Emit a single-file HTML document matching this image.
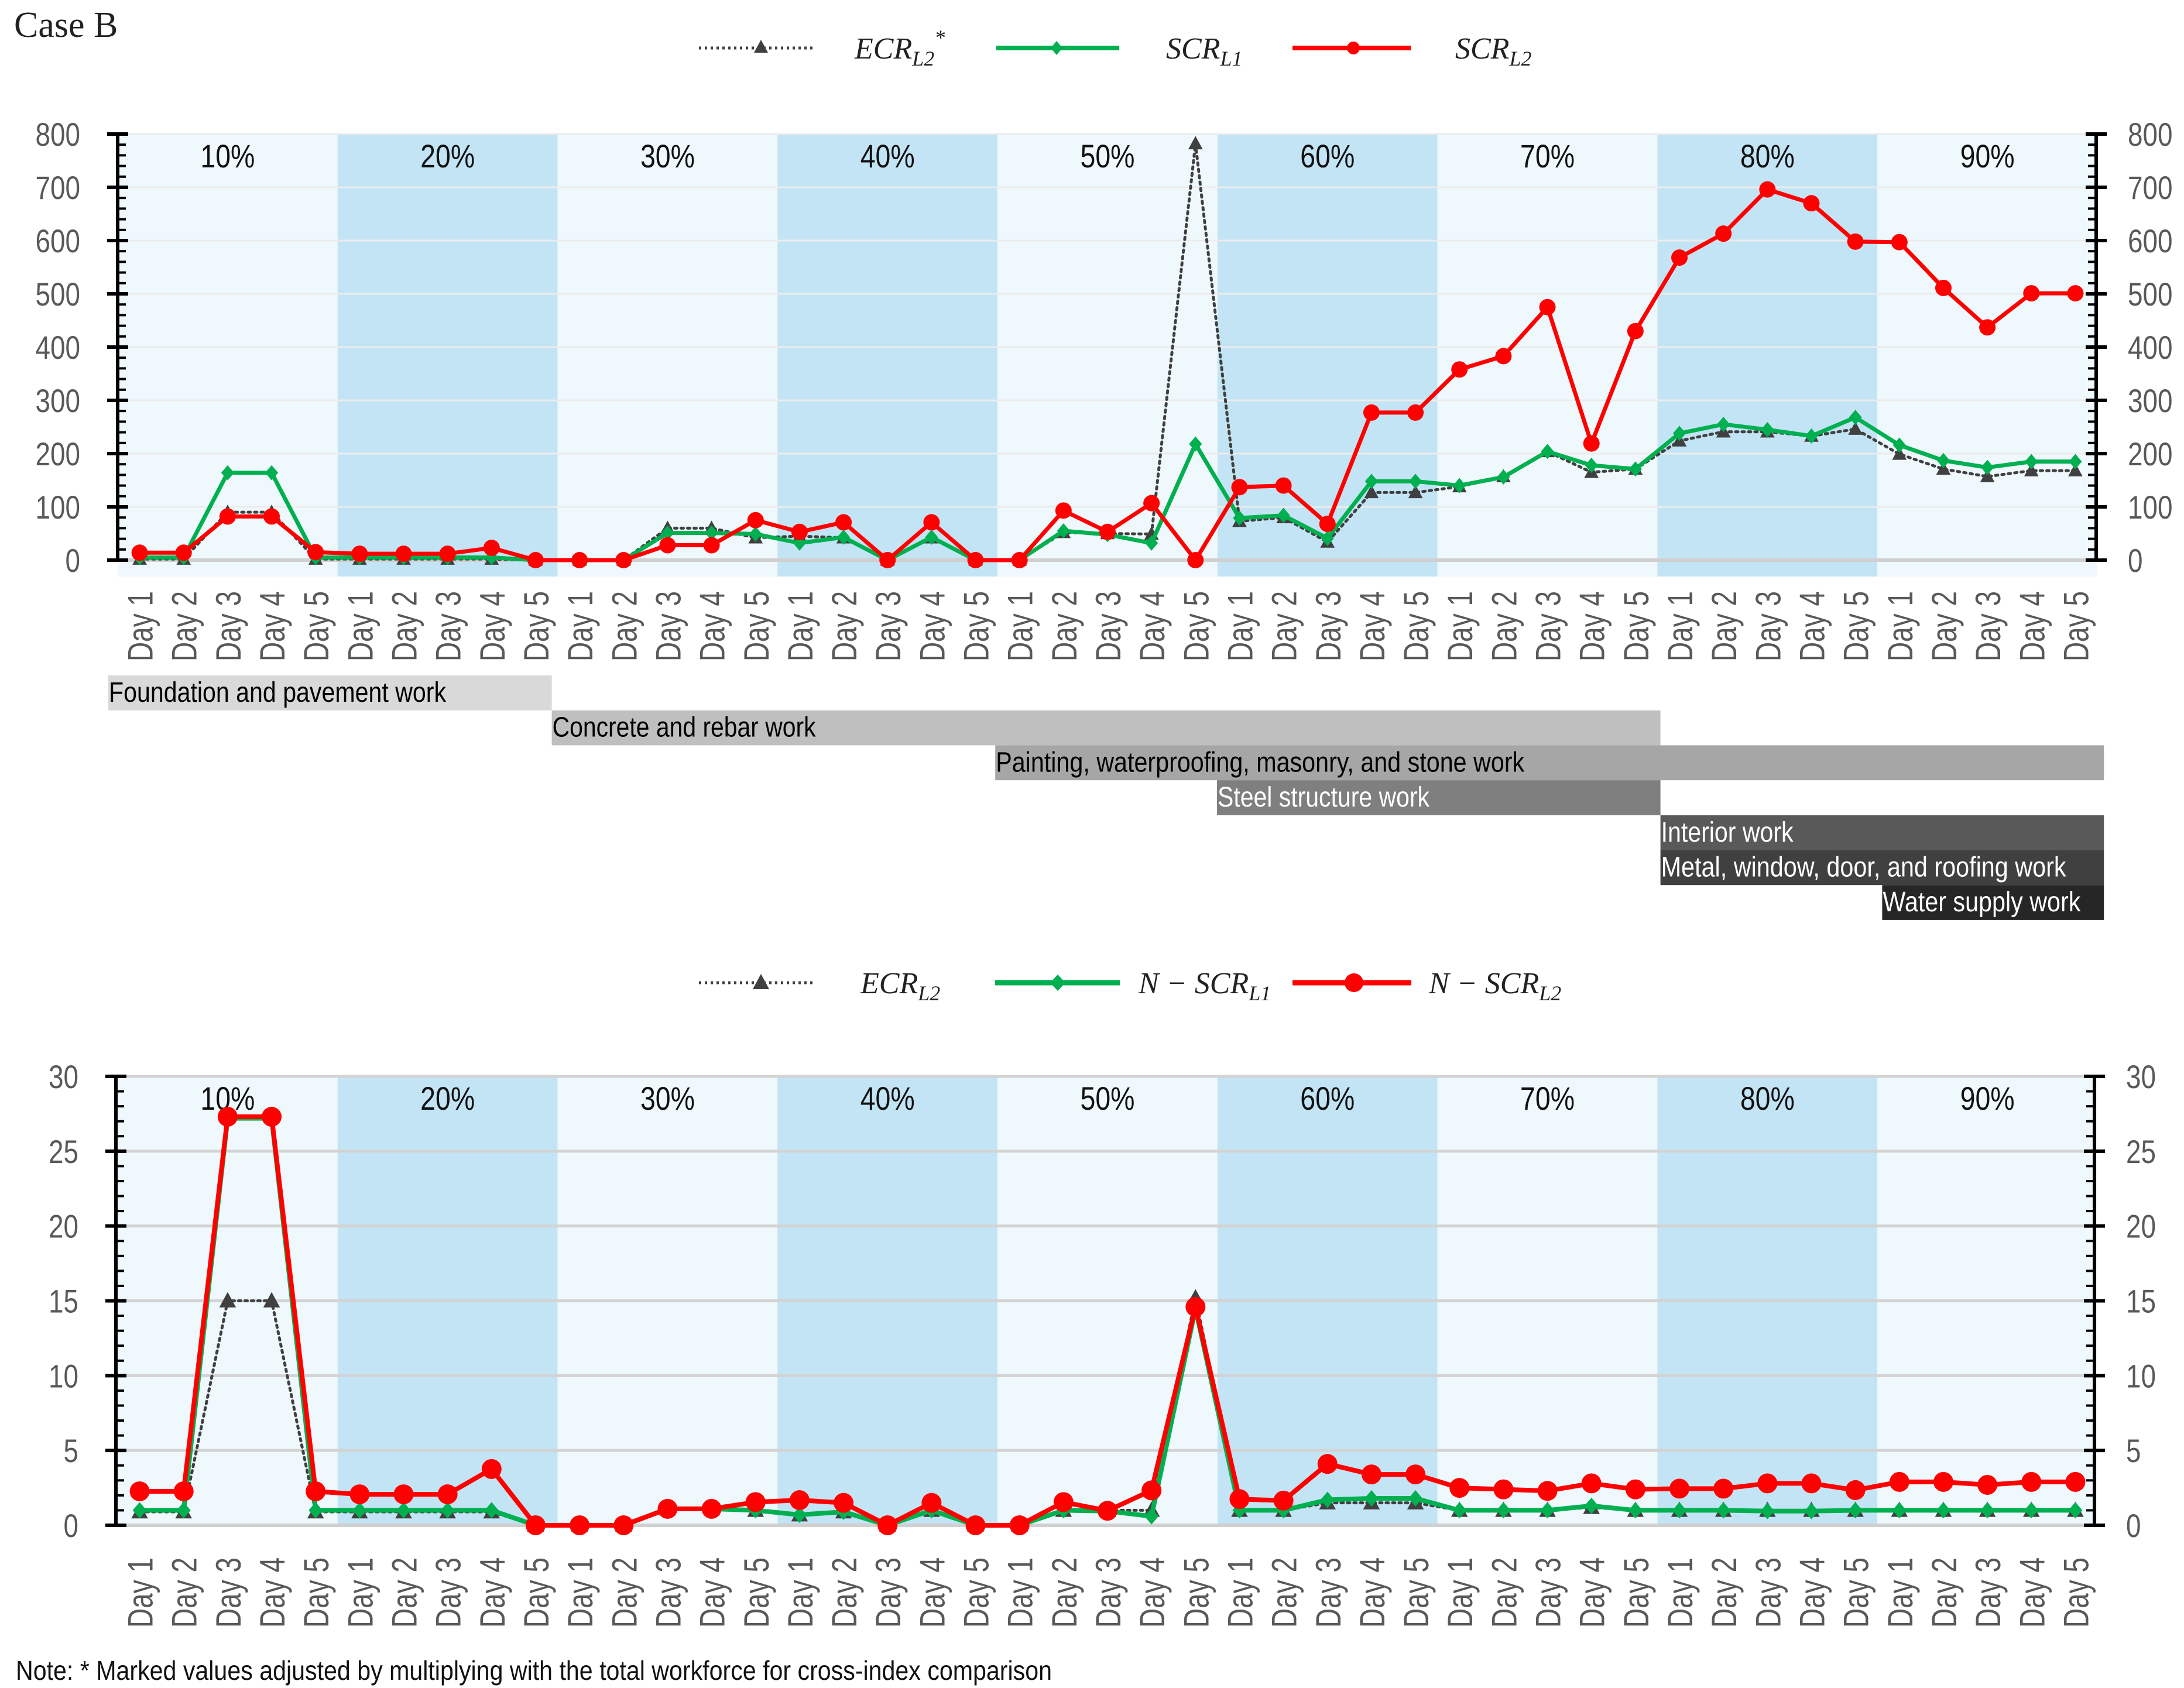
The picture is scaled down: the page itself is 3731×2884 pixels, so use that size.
<!DOCTYPE html>
<html><head><meta charset="utf-8"><style>
html,body{margin:0;padding:0;background:#fff;}
svg{display:block;}
text{font-family:"Liberation Sans",sans-serif;}
.m{font-family:"Liberation Serif",serif;font-style:italic;}
</style></head><body>
<svg id="chart" width="3731" height="2884" viewBox="0 0 3731 2884" xmlns="http://www.w3.org/2000/svg">
<text x="24" y="63" font-family="Liberation Serif" font-size="62" fill="#222" style="font-family:'Liberation Serif',serif">Case B</text>
<g id="g-top"></g>
<g id="g-bot"></g>
<g id="g-gantt"></g>
<g id="g-leg">
 <g>
  <line x1="1194" y1="82" x2="1393" y2="82" stroke="#404040" stroke-width="5" stroke-dasharray="4 6"/>
  <polygon points="1300,68 1288,90 1312,90" fill="#404040"/>
  <text class="m" x="1460" y="100" font-size="52" fill="#222">ECR<tspan font-size="36" dy="12">L2</tspan><tspan font-size="36" dy="-36">*</tspan></text>
 </g>
 <g>
  <line x1="1702" y1="82" x2="1912" y2="82" stroke="#00b050" stroke-width="8"/>
  <polygon points="1805,70 1815,82 1805,94 1795,82" fill="#00b050"/>
  <text class="m" x="1992" y="100" font-size="52" fill="#222">SCR<tspan font-size="36" dy="12">L1</tspan></text>
 </g>
 <g>
  <line x1="2208" y1="82" x2="2410" y2="82" stroke="#ff0000" stroke-width="8"/>
  <circle cx="2312" cy="82" r="11" fill="#ff0000"/>
  <text class="m" x="2486" y="100" font-size="52" fill="#222">SCR<tspan font-size="36" dy="12">L2</tspan></text>
 </g>
 <g>
  <line x1="1194" y1="1679" x2="1393" y2="1679" stroke="#404040" stroke-width="5" stroke-dasharray="4 6"/>
  <polygon points="1300,1664 1286,1690 1314,1690" fill="#404040"/>
  <text class="m" x="1470" y="1697" font-size="52" fill="#222">ECR<tspan font-size="36" dy="12">L2</tspan></text>
 </g>
 <g>
  <line x1="1700" y1="1679" x2="1913" y2="1679" stroke="#00b050" stroke-width="9"/>
  <polygon points="1807,1665 1820,1679 1807,1693 1794,1679" fill="#00b050"/>
  <text class="m" x="1945" y="1697" font-size="52" fill="#222">N − SCR<tspan font-size="36" dy="12">L1</tspan></text>
 </g>
 <g>
  <line x1="2208" y1="1679" x2="2411" y2="1679" stroke="#ff0000" stroke-width="9"/>
  <circle cx="2313" cy="1679" r="16" fill="#ff0000"/>
  <text class="m" x="2441" y="1697" font-size="52" fill="#222">N − SCR<tspan font-size="36" dy="12">L2</tspan></text>
 </g>
</g>
<text x="27" y="2870" font-size="46" fill="#111" textLength="1770" lengthAdjust="spacingAndGlyphs">Note: * Marked values adjusted by multiplying with the total workforce for cross-index comparison</text>
</svg>
<script>
// ---------- data ----------
const groups = ["10%","20%","30%","40%","50%","60%","70%","80%","90%"];
const days = ["Day 1","Day 2","Day 3","Day 4","Day 5"];
const topTicks = [0,100,200,300,400,500,600,700,800];
const botTicks = [0,5,10,15,20,25,30];
const ecrTop = [2,2,90,90,2, 2,2,2,2,0, 0,0,60,60,42, 45,42,0,42,0, 0,52,50,49,782, 73,80,34,127,127, 138,157,204,165,171, 224,241,241,233,246, 199,171,157,168,168];
const scrL1Top = [5,5,164,164,5, 5,5,5,5,0, 0,0,51,51,49, 32,43,0,43,0, 0,55,48,32,218, 79,84,41,148,148, 140,156,204,178,171, 238,255,245,233,268, 216,187,174,185,185];
const scrL2Top = [14,14,82,82,15, 12,12,12,23,0, 0,0,28,28,75, 53,71,0,71,0, 0,93,53,107,0, 137,140,68,277,277, 358,383,475,219,430, 568,613,696,670,598, 597,511,437,501,501];
const ecrBot = [0.9,0.9,15,15,0.9, 0.9,0.9,0.9,0.9,0, 0,0,1.1,1.1,1.0, 0.7,0.9,0,1.0,0, 0,1.0,1.0,1.0,15.2, 1.0,1.0,1.5,1.5,1.5, 1.0,1.0,1.0,1.2,1.0, 1,1,1,1,1, 1,1,1,1,1];
const nScrL1Bot = [1,1,27.2,27.2,1, 1,1,1,1,0, 0,0,1.1,1.1,1.0, 0.7,0.9,0,1.0,0, 0,1.0,0.95,0.6,14.5, 1.0,1.0,1.7,1.8,1.8, 1.0,1.0,1.0,1.3,1.0, 1,1,0.95,0.95,1, 1,1,1,1,1];
const nScrL2Bot = [2.27,2.27,27.3,27.3,2.27, 2.07,2.07,2.07,3.76,0, 0,0,1.1,1.1,1.55, 1.68,1.5,0,1.5,0, 0,1.55,0.97,2.33,14.6, 1.75,1.65,4.1,3.4,3.4, 2.5,2.4,2.3,2.8,2.4, 2.45,2.45,2.8,2.8,2.35, 2.9,2.9,2.7,2.9,2.9];
const tasks = ["Foundation and pavement work","Concrete and rebar work","Painting, waterproofing, masonry, and stone work","Steel structure work","Interior work","Metal, window, door, and roofing work","Water supply work"];
const taskStart = [0,2,4,5,7,7,8];
const taskEnd = [2,7,9,7,9,9,9];

// ---------- helpers ----------
const NS="http://www.w3.org/2000/svg";
function mk(tag, attrs, parent){const e=document.createElementNS(NS,tag);for(const k in attrs)e.setAttribute(k,attrs[k]);parent.appendChild(e);return e;}
const BAND_L=201, BAND_R=3583, N=45, STEP=(BAND_R-BAND_L)/N;
const xPos = i => BAND_L + STEP*(i+0.5);

function drawChart(g, cfg){
  const yS = v => cfg.y0 - (v/cfg.max)*(cfg.y0-cfg.yTop);
  groups.forEach((lab,k)=>{
    const r=mk('rect',{x:BAND_L+k*5*STEP,y:cfg.yTop,width:5*STEP,height:cfg.bandBottom-cfg.yTop,fill:k%2?'#c2e4f4':'#eff8fc'},g);
    
    
    const t=mk('text',{x:BAND_L+(k*5+2.5)*STEP,y:cfg.yTop+57,'font-size':56,'text-anchor':'middle',fill:'#111',textLength:93,lengthAdjust:'spacingAndGlyphs'},g);
    t.textContent=lab;
    
    
  });
  cfg.ticks.forEach(v=>{
    const l=mk('line',{x1:BAND_L,x2:BAND_R,y1:yS(v),y2:yS(v),stroke:v===0?'#d0d0d0':cfg.gridColor,'stroke-width':v===0?6:cfg.gridW},g);
    
    
  });
  [[cfg.axL,-1],[cfg.axR,1]].forEach(([ax,dir])=>{
    const a=mk('line',{x1:ax,x2:ax,y1:cfg.yTop-2,y2:cfg.y0+2,stroke:'#000','stroke-width':6},g);
    
    
    for(let v=0;v<=cfg.max+1e-9;v+=cfg.minor){
      const isMaj=Math.abs(v/cfg.major-Math.round(v/cfg.major))<1e-6;
      const y=yS(v);
      if(isMaj) mk('line',{x1:ax-18,x2:ax+18,y1:y,y2:y,stroke:'#000','stroke-width':6},g);
      else mk('line',{x1:ax,x2:ax-dir*14,y1:y,y2:y,stroke:'#000','stroke-width':4},g);
    }
    cfg.ticks.forEach(v=>{
      const s=String(v);
      const t=mk('text',{x:dir<0?ax-64:ax+54,y:yS(v)+20,'font-size':56,fill:'#595959','text-anchor':dir<0?'end':'start',textLength:s.length*25.5,lengthAdjust:'spacingAndGlyphs'},g);
      t.textContent=s;
      
      
    });
  });
  for(let i=0;i<N;i++){
    const x=xPos(i)+22;
    const t=mk('text',{x:0,y:0,transform:`translate(${x},${cfg.xLabTop}) rotate(-90)`,'font-size':60,fill:'#595959','text-anchor':'end',textLength:120,lengthAdjust:'spacingAndGlyphs'},g);
    t.textContent=days[i%5];
    
    
  }
  cfg.series.forEach(s=>{
    const pts=s.data.map((v,i)=>xPos(i)+','+yS(v)).join(' ');
    const pl=mk('polyline',{points:pts,fill:'none',stroke:s.color,'stroke-width':s.w,'stroke-linejoin':'round','stroke-linecap':'round'},g);
    if(s.dash) pl.setAttribute('stroke-dasharray',s.dash);
    
    
    s.data.forEach((v,i)=>{
      const x=xPos(i), y=yS(v); let m;
      if(s.marker==='tri') m=mk('polygon',{points:`${x},${y-s.ms} ${x-s.ms*0.95},${y+s.ms*0.75} ${x+s.ms*0.95},${y+s.ms*0.75}`,fill:'#404040'},g);
      else if(s.marker==='dia') m=mk('polygon',{points:`${x},${y-s.ms} ${x+s.ms*0.85},${y} ${x},${y+s.ms} ${x-s.ms*0.85},${y}`,fill:s.color},g);
      else m=mk('circle',{cx:x,cy:y,r:s.ms,fill:s.color},g);
      
      
    });
  });
}

drawChart(document.getElementById('g-top'),{
  y0:957,yTop:229,bandBottom:985,max:800,ticks:topTicks,major:100,minor:20,axL:201,axR:3581,
  gridColor:'#ececec',gridW:3,xLabTop:1010,
  series:[
    {name:'ecr-l2-star',data:ecrTop,color:'#404040',w:5,dash:'4 7',marker:'tri',ms:13},
    {name:'scr-l1',data:scrL1Top,color:'#00b050',w:7,marker:'dia',ms:13},
    {name:'scr-l2',data:scrL2Top,color:'#ff0000',w:7,marker:'circle',ms:14}
  ]});
drawChart(document.getElementById('g-bot'),{
  y0:2606,yTop:1839,bandBottom:2606,max:30,ticks:botTicks,major:5,minor:1,axL:198,axR:3578,
  gridColor:'#d3d3d3',gridW:5,xLabTop:2661,
  series:[
    {name:'ecr-l2',data:ecrBot,color:'#404040',w:5,dash:'4 7',marker:'tri',ms:15},
    {name:'n-scr-l1',data:nScrL1Bot,color:'#00b050',w:8,marker:'dia',ms:14},
    {name:'n-scr-l2',data:nScrL2Bot,color:'#ff0000',w:8,marker:'circle',ms:17}
  ]});

(function(){
  const g=document.getElementById('g-gantt');
  const G0=185, GW=378.8, Y0=1154, RH=59.7;
  const fills=['#d9d9d9','#bfbfbf','#a6a6a6','#7f7f7f','#595959','#404040','#262626'];
  const tcol=['#000','#000','#000','#fff','#fff','#fff','#fff'];
  const tlen=[576,450,903,362,226,692,338];
  tasks.forEach((name,k)=>{
    const x=G0+taskStart[k]*GW, w=(taskEnd[k]-taskStart[k])*GW, y=Y0+k*RH;
    const r=mk('rect',{x:x,y:y,width:w,height:RH,fill:fills[k]},g);
    
    
    const t=mk('text',{x:x+1,y:y+45,'font-size':48,fill:tcol[k],textLength:tlen[k],lengthAdjust:'spacingAndGlyphs'},g);
    t.textContent=name;
    
    
  });
})();
</script>
</body></html>
